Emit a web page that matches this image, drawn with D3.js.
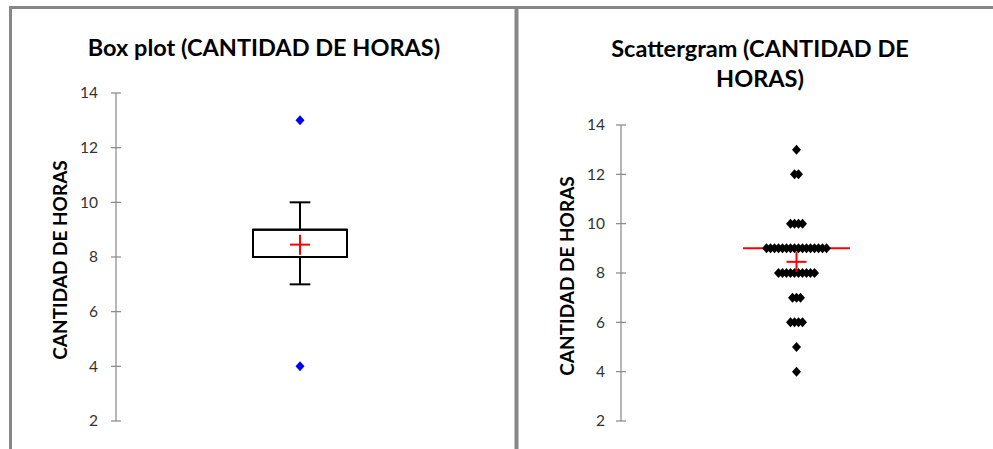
<!DOCTYPE html>
<html>
<head>
<meta charset="utf-8">
<script src="https://cdn.jsdelivr.net/npm/d3@7"></script>
<style>
  html, body { margin: 0; padding: 0; background: #fff; }
  svg { display: block; }
  text { font-family: Lato, "Open Sans", sans-serif; }
</style>
</head>
<body>
<svg id="chart" width="993" height="449"></svg>
<script>
// ---- data ----
const hours = [
  13,
  12, 12,
  10, 10, 10, 10,
  9, 9, 9, 9, 9, 9, 9, 9, 9, 9, 9, 9, 9, 9, 9, 9,
  8, 8, 8, 8, 8, 8, 8, 8, 8, 8,
  7, 7, 7,
  6, 6, 6, 6,
  5,
  4
];
const yTicks = [2, 4, 6, 8, 10, 12, 14];
const whiskers = [7, 10];          // whisker ends shown in the box plot
const extremes = [4, 13];          // min / max shown as blue points
const titleBox = "Box plot (CANTIDAD DE HORAS)";
const titleScatter = ["Scattergram (CANTIDAD DE", "HORAS)"];
const axisTitle = "CANTIDAD DE HORAS";

const svg = d3.select("#chart");
const gray = "#878787";

// frame
svg.append("line").attr("x1", 9).attr("x2", 993).attr("y1", 7.5).attr("y2", 7.5)
  .attr("stroke", gray).attr("stroke-width", 3);
svg.append("line").attr("x1", 10.5).attr("x2", 10.5).attr("y1", 6).attr("y2", 449)
  .attr("stroke", gray).attr("stroke-width", 3);
svg.append("line").attr("x1", 516.5).attr("x2", 516.5).attr("y1", 6).attr("y2", 449)
  .attr("stroke", gray).attr("stroke-width", 4);

const sorted = hours.slice().sort(d3.ascending);
const q1 = d3.quantile(sorted, 0.25);
const med = d3.quantile(sorted, 0.5);
const q3 = d3.quantile(sorted, 0.75);
const mean = d3.mean(hours);

function drawAxis(g, y, axisX, labelGap, labelX) {
  const ax = g.append("g").attr("transform", `translate(${axisX},0)`);
  ax.append("line").attr("x1", 0).attr("x2", 0)
    .attr("y1", y(yTicks[0])).attr("y2", y(yTicks[yTicks.length - 1]))
    .attr("stroke", gray).attr("stroke-width", 1.2);
  ax.selectAll("line.tk").data(yTicks).join("line").attr("class", "tk")
    .attr("x1", -5).attr("x2", 5).attr("y1", d => y(d)).attr("y2", d => y(d))
    .attr("stroke", gray).attr("stroke-width", 1.2);
  ax.selectAll("text.tl").data(yTicks).join("text").attr("class", "tl")
    .attr("x", -labelGap).attr("y", d => y(d)).attr("dy", "0.35em")
    .attr("text-anchor", "end").attr("font-size", 15.5).attr("fill", "#333")
    .text(d => d);
  g.append("text")
    .attr("transform", `translate(${labelX},${(y(yTicks[0]) + y(yTicks[yTicks.length-1])) / 2 + 3}) rotate(-90)`)
    .attr("text-anchor", "middle").attr("font-size", 19).attr("font-weight", "bold")
    .attr("fill", "#000").text(axisTitle);
}

function diamond(g, cx, cy, r, color) {
  g.append("path")
    .attr("d", `M${cx},${cy - r}L${cx + r * 0.9},${cy}L${cx},${cy + r}L${cx - r * 0.9},${cy}Z`)
    .attr("fill", color);
}

// ---- left: box plot ----
{
  const g = svg.append("g");
  const y = d3.scaleLinear().domain([2, 14]).range([421, 93]);
  const x = d3.scaleLinear().domain([-1, 1]).range([253, 347]);
  g.append("text").attr("x", 264).attr("y", 56).attr("text-anchor", "middle")
    .attr("font-size", 23.5).attr("font-weight", "bold").text(titleBox);
  drawAxis(g, y, 116, 18, 67);
  const cx = x(0);
  // whiskers
  g.append("line").attr("x1", cx).attr("x2", cx).attr("y1", y(whiskers[1])).attr("y2", y(q3))
    .attr("stroke", "#000").attr("stroke-width", 2);
  g.append("line").attr("x1", cx).attr("x2", cx).attr("y1", y(q1)).attr("y2", y(whiskers[0]))
    .attr("stroke", "#000").attr("stroke-width", 2);
  whiskers.forEach(w => g.append("line").attr("x1", x(-0.22)).attr("x2", x(0.22))
    .attr("y1", y(w)).attr("y2", y(w)).attr("stroke", "#000").attr("stroke-width", 2));
  g.append("rect").attr("x", x(-1)).attr("y", y(q3)).attr("width", x(1) - x(-1))
    .attr("height", y(q1) - y(q3)).attr("fill", "none").attr("stroke", "#000").attr("stroke-width", 2);
  g.append("line").attr("x1", x(-1)).attr("x2", x(1)).attr("y1", y(med)).attr("y2", y(med))
    .attr("stroke", "#000").attr("stroke-width", 2);
  // mean
  g.append("line").attr("x1", cx - 10).attr("x2", cx + 10).attr("y1", y(mean)).attr("y2", y(mean))
    .attr("stroke", "#ff0000").attr("stroke-width", 2);
  g.append("line").attr("x1", cx).attr("x2", cx).attr("y1", y(mean) - 10).attr("y2", y(mean) + 10)
    .attr("stroke", "#ff0000").attr("stroke-width", 2);
  extremes.forEach(v => diamond(g, cx, y(v), 5, "#0000ff"));
}

// ---- right: scattergram ----
{
  const g = svg.append("g");
  const y = d3.scaleLinear().domain([2, 14]).range([421, 125]);
  const x = d3.scaleLinear().domain([-1, 1]).range([743, 850]);
  const xo = d3.scaleLinear().domain([0, 1]).range([0, 4]); // offset per stacked point
  titleScatter.forEach((t, i) => g.append("text").attr("x", 760).attr("y", 57 + i * 30)
    .attr("text-anchor", "middle").attr("font-size", 23.5).attr("font-weight", "bold").text(t));
  drawAxis(g, y, 621, 16, 574);
  const cx = x(0);
  const groups = d3.groups(hours, d => d);
  // median line
  g.append("line").attr("x1", x(-1)).attr("x2", x(1)).attr("y1", y(med)).attr("y2", y(med))
    .attr("stroke", "#ff0000").attr("stroke-width", 2);
  groups.forEach(([v, arr]) => {
    const n = arr.length;
    arr.forEach((d, i) => diamond(g, cx + xo(i - (n - 1) / 2), y(d), 5, "#000"));
  });
  g.append("line").attr("x1", cx - 10).attr("x2", cx + 10).attr("y1", y(mean)).attr("y2", y(mean))
    .attr("stroke", "#ff0000").attr("stroke-width", 2);
  g.append("line").attr("x1", cx).attr("x2", cx).attr("y1", y(mean) - 10).attr("y2", y(mean) + 10)
    .attr("stroke", "#ff0000").attr("stroke-width", 2);
}
</script>
</body>
</html>
